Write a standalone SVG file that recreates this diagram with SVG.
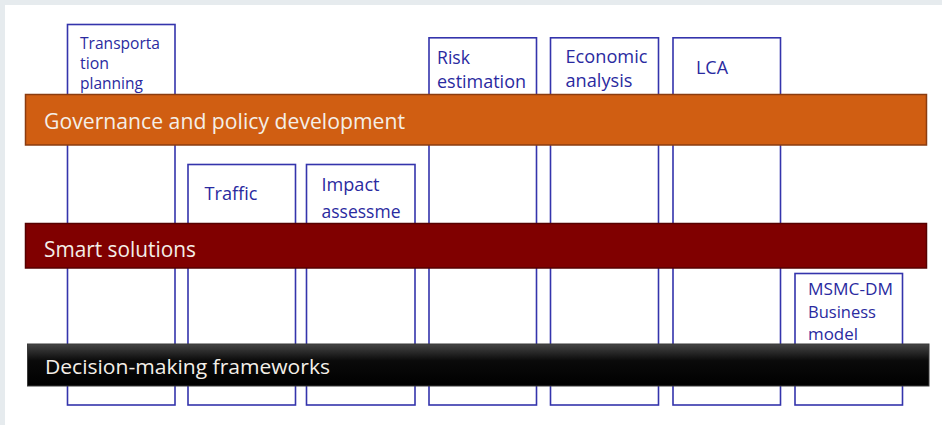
<svg xmlns="http://www.w3.org/2000/svg" width="942" height="425" viewBox="0 0 942 425">
<defs>
<linearGradient id="gBlack" x1="0" y1="0" x2="0" y2="1">
<stop offset="0" stop-color="#454545"/>
<stop offset="0.4" stop-color="#0a0a0a"/>
<stop offset="1" stop-color="#000000"/>
</linearGradient>
<style>
.box{fill:#ffffff;stroke:#3434ac;stroke-width:1.6}
.bt{font-family:"Open Sans","Liberation Sans",sans-serif;font-size:17.5px;fill:#2a2aa0}
.sm{font-size:15.5px}
.band{font-family:"Open Sans","Liberation Sans",sans-serif;font-size:22px;fill:#f4efe8}
</style>
</defs>
<rect x="0" y="0" width="942" height="425" fill="#e6ebee"/>
<rect x="5" y="5" width="937" height="420" fill="#ffffff"/>

<g id="transportation-planning">
<rect class="box" x="67.5" y="24.5" width="107.5" height="380.5"/>
<text class="bt sm" x="80" y="49" textLength="80" lengthAdjust="spacingAndGlyphs">Transporta</text>
<text class="bt sm" x="80" y="69" textLength="29" lengthAdjust="spacingAndGlyphs">tion</text>
<text class="bt sm" x="80" y="89" textLength="63" lengthAdjust="spacingAndGlyphs">planning</text>
</g>
<g id="traffic">
<rect class="box" x="188" y="164.5" width="107.5" height="240.5"/>
<text class="bt" x="204.5" y="200" textLength="53" lengthAdjust="spacingAndGlyphs">Traffic</text>
</g>
<g id="impact-assessment">
<rect class="box" x="306.5" y="164.5" width="108.5" height="240.5"/>
<text class="bt" x="321.5" y="191" textLength="58" lengthAdjust="spacingAndGlyphs">Impact</text>
<text class="bt" x="321.5" y="217.5" textLength="79" lengthAdjust="spacingAndGlyphs">assessme</text>
</g>
<g id="risk-estimation">
<rect class="box" x="429" y="37.8" width="107.5" height="367.2"/>
<text class="bt" x="437" y="63.5" textLength="33" lengthAdjust="spacingAndGlyphs">Risk</text>
<text class="bt" x="437" y="87.5" textLength="89" lengthAdjust="spacingAndGlyphs">estimation</text>
</g>
<g id="economic-analysis">
<rect class="box" x="550.5" y="37.8" width="108" height="367.2"/>
<text class="bt" x="565.5" y="63" textLength="82" lengthAdjust="spacingAndGlyphs">Economic</text>
<text class="bt" x="565.5" y="87" textLength="67" lengthAdjust="spacingAndGlyphs">analysis</text>
</g>
<g id="lca">
<rect class="box" x="673" y="37.8" width="107.5" height="367.2"/>
<text class="bt" x="696" y="73.5" textLength="32" lengthAdjust="spacingAndGlyphs">LCA</text>
</g>
<g id="msmc-dm">
<rect class="box" x="795" y="273.5" width="107.5" height="131.5"/>
<text class="bt sm" x="808" y="295" textLength="85" lengthAdjust="spacingAndGlyphs">MSMC-DM</text>
<text class="bt sm" x="808" y="318" textLength="68" lengthAdjust="spacingAndGlyphs">Business</text>
<text class="bt sm" x="808" y="340" textLength="50" lengthAdjust="spacingAndGlyphs">model</text>
</g>

<g id="governance">
<rect x="25.5" y="94.5" width="901" height="50.5" fill="#d05e12" stroke="#8a3c10" stroke-width="1.5"/>
<text class="band" x="44" y="128.5" textLength="361" lengthAdjust="spacingAndGlyphs">Governance and policy development</text>
</g>
<g id="smart-solutions">
<rect x="25.5" y="223.5" width="901" height="44.5" fill="#800000" stroke="#560000" stroke-width="1.5"/>
<text class="band" x="44" y="256.5" textLength="152" lengthAdjust="spacingAndGlyphs" style="font-size:21px">Smart solutions</text>
</g>
<g id="decision-making">
<rect x="27.5" y="344" width="901.5" height="42" fill="url(#gBlack)" stroke="#3a3a3a" stroke-width="1"/>
<text class="band" x="45" y="373.5" textLength="285" lengthAdjust="spacingAndGlyphs" style="font-size:20.5px">Decision-making frameworks</text>
</g>
</svg>
